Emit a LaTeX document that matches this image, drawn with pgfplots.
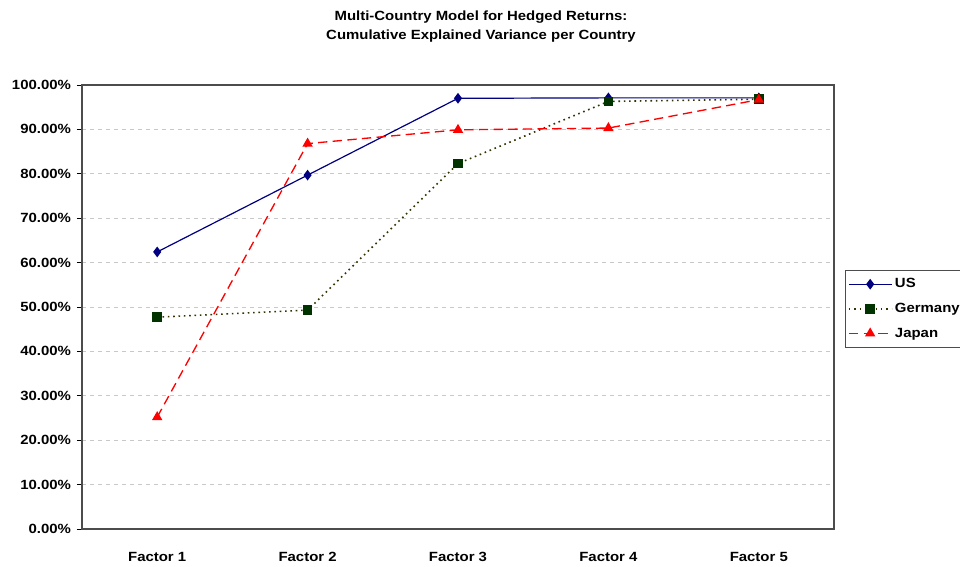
\documentclass[border=0pt]{standalone}
\usepackage{fontspec}
\setmainfont[FakeStretch=1.12]{Liberation Sans}
\usepackage{pgfplots}
\pgfplotsset{compat=1.18}
\definecolor{usblue}{HTML}{000080}
\definecolor{geline}{HTML}{333300}
\definecolor{gemark}{HTML}{003300}
\definecolor{gridgray}{HTML}{C8C8C8}
\begin{document}
\begin{tikzpicture}[x=0.75pt,y=0.75pt]
\useasboundingbox (-82,-38) rectangle (878,529);
\begin{axis}[
  at={(0,0)}, anchor=south west,
  scale only axis, width=564pt, height=333pt,
  xmin=-0.5, xmax=4.5, ymin=0, ymax=100,
  xtick={0,1,2,3,4},
  xticklabels={Factor 1,Factor 2,Factor 3,Factor 4,Factor 5},
  ytick={0,10,...,100},
  yticklabel={\pgfmathprintnumber[fixed,fixed zerofill,precision=2]{\tick}\%},
  /pgf/number format/assume math mode=true,
  ticklabel style={font=\bfseries\fontsize{10}{12}\selectfont},
  x tick style={draw=none},
  y tick style={black, line width=0.6pt},
  tick align=outside, major tick length=3.75pt,
  ytick pos=left,
  yticklabel style={xshift=-1pt},
  xticklabel style={yshift=-10pt},
  ymajorgrids, grid style={gridgray, dashed, line width=0.6pt},
  axis line style={black!70, line width=0.9pt},
  legend style={at={(axis description cs:1.0146,0.583)}, anchor=north west,
    draw=black!70, line width=0.6pt, font=\bfseries\fontsize{10}{12}\selectfont,
    row sep=6pt, inner xsep=2pt, inner ysep=4pt},
  legend cell align=left,
  legend image code/.code={
    \draw[mark repeat=2,mark phase=2] plot coordinates {(0pt,0pt) (16pt,0pt) (32pt,0pt)};},
]
\addplot[usblue, line width=0.9pt, mark=diamond*, mark size=3.3pt, mark options={solid, fill=usblue}]
  coordinates {(0,62.4) (1,79.7) (2,97.0) (3,97.1) (4,97.1)};
\addlegendentry{US}
\addplot[geline, line width=1.2pt, dash pattern=on 1.2pt off 2.8pt, mark=square*, mark size=3pt, mark options={solid, draw=gemark, fill=gemark}]
  coordinates {(0,47.7) (1,49.3) (2,82.3) (3,96.3) (4,96.8)};
\addlegendentry{Germany}
\addplot[red, line width=1pt, dash pattern=on 7pt off 4pt, mark=triangle*, mark size=3.5pt, mark options={solid, fill=red}]
  coordinates {(0,25.2) (1,86.8) (2,89.9) (3,90.3) (4,96.7)};
\addlegendentry{Japan}
\end{axis}
\node[font=\bfseries\fontsize{10}{14.25}\selectfont, align=center, inner sep=0pt] at (399,502) {Multi-Country Model for Hedged Returns:\\Cumulative Explained Variance per Country};
\end{tikzpicture}
\end{document}
